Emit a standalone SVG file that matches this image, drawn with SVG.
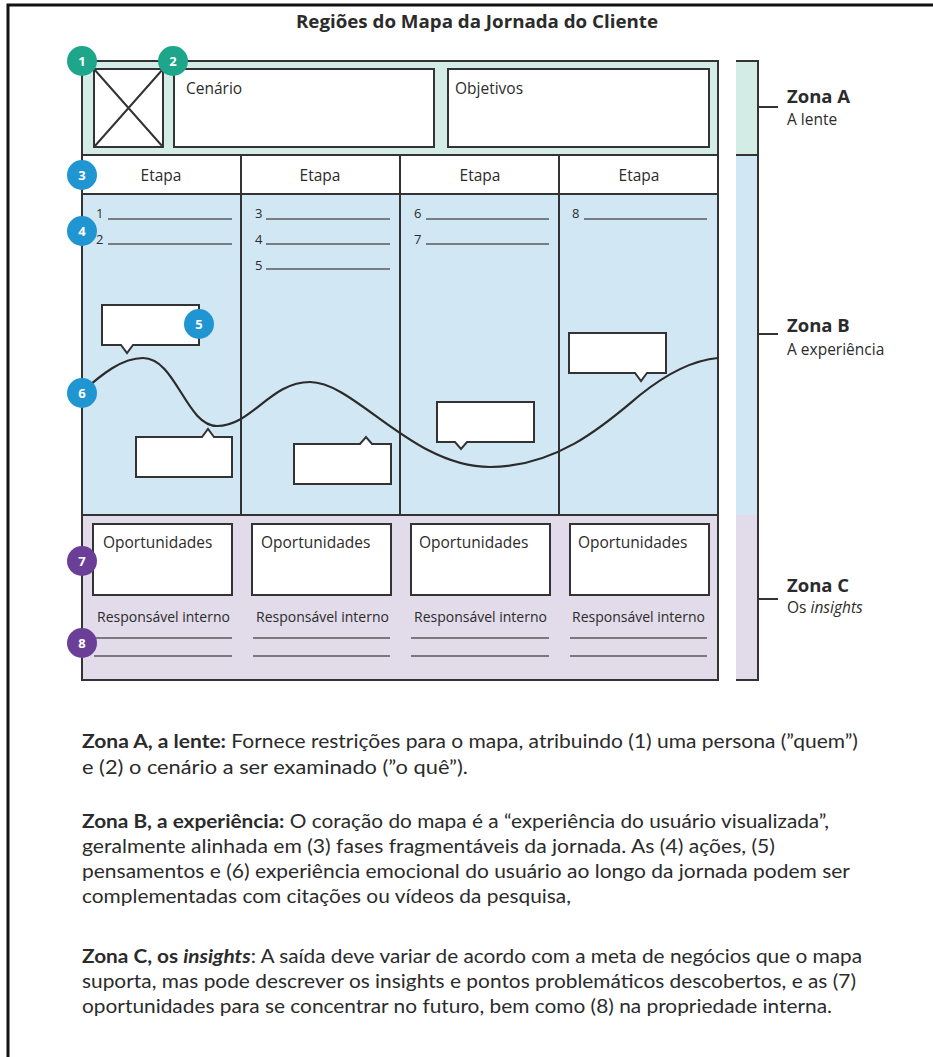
<svg xmlns="http://www.w3.org/2000/svg" width="933" height="1057" viewBox="0 0 933 1057">
<style>
  text { font-family: "Open Sans", "Noto Sans", "Liberation Sans", sans-serif; fill: #2b2b2b; }
  .frame { fill: none; stroke: #111; stroke-width: 3; }
  .box { fill: #fff; stroke: #333; stroke-width: 2; }
  .grid { fill: none; stroke: #333; stroke-width: 2; }
  .uline { stroke: #5a5a5a; stroke-width: 1.3; }
  .lbl { font-size: 15.5px; }
  .etapa { font-size: 15.5px; text-anchor: middle; }
  .num { font-size: 13px; }
  .resp { font-size: 14px; }
  .zt { font-size: 18.5px; font-weight: bold; }
  .zs { font-size: 15.5px; }
  .para { font-family: Lato, "Open Sans", sans-serif; font-size: 18.5px; }
  .badge text { font-size: 13px; font-weight: bold; fill: #fff; text-anchor: middle; }
  .teal { fill: #1da68a; }
  .blue { fill: #1f95d2; }
  .purple { fill: #6b3f97; }
  .bubble { fill: #fff; stroke: #333; stroke-width: 2; stroke-linejoin: miter; }
</style>

<!-- outer frame -->
<path class="frame" d="M933,5 H8 V1057"/>

<!-- title -->
<text x="477" y="28" font-size="18" font-weight="bold" text-anchor="middle" textLength="362" lengthAdjust="spacingAndGlyphs">Regiões do Mapa da Jornada do Cliente</text>

<!-- zone backgrounds -->
<g id="zone-fills">
  <rect x="82" y="61" width="636" height="94" fill="#d3ede6"/>
  <rect x="82" y="155" width="636" height="39" fill="#fff"/>
  <rect x="82" y="194" width="636" height="321" fill="#d2e7f4"/>
  <rect x="82" y="515" width="636" height="165" fill="#e2dbea"/>
</g>

<!-- Zone A -->
<g id="persona">
  <rect class="box" x="94" y="69" width="69" height="78"/>
  <path d="M94,69 L163,147 M163,69 L94,147" stroke="#333" stroke-width="2"/>
</g>
<g id="cenario">
  <rect class="box" x="174" y="69" width="260" height="78"/>
  <text class="lbl" x="186" y="94">Cenário</text>
</g>
<g id="objetivos">
  <rect class="box" x="448" y="69" width="261" height="78"/>
  <text class="lbl" x="455" y="94">Objetivos</text>
</g>

<!-- stage headers -->
<g id="etapas">
  <text class="etapa" x="161" y="181">Etapa</text>
  <text class="etapa" x="320" y="181">Etapa</text>
  <text class="etapa" x="480" y="181">Etapa</text>
  <text class="etapa" x="639" y="181">Etapa</text>
</g>

<!-- grid lines -->
<g id="grid">
  <rect class="grid" x="82" y="61" width="636" height="619"/>
  <path class="grid" d="M82,155 H718 M82,194 H718 M82,515 H718 M241,155 V515 M400,155 V515 M559,155 V515"/>
</g>

<!-- actions -->
<g id="acoes">
  <text class="num" x="96" y="218">1</text><line class="uline" x1="108" y1="219" x2="232" y2="219"/>
  <text class="num" x="96" y="244">2</text><line class="uline" x1="108" y1="244" x2="232" y2="244"/>
  <text class="num" x="255" y="218">3</text><line class="uline" x1="266" y1="219" x2="390" y2="219"/>
  <text class="num" x="255" y="244">4</text><line class="uline" x1="266" y1="244" x2="390" y2="244"/>
  <text class="num" x="255" y="270">5</text><line class="uline" x1="266" y1="269" x2="390" y2="269"/>
  <text class="num" x="414" y="218">6</text><line class="uline" x1="426" y1="219" x2="549" y2="219"/>
  <text class="num" x="414" y="244">7</text><line class="uline" x1="426" y1="244" x2="549" y2="244"/>
  <text class="num" x="572" y="218">8</text><line class="uline" x1="584" y1="219" x2="707" y2="219"/>
</g>

<!-- emotion curve -->
<g id="connectors">
  <path d="M82,392 C102,374 122,358 143,358 C176,358 186,426 217,426 C252,426 270,382 310,382 C355,382 412,467 490,467 C560,467 610,420 640,395 C670,371 695,360 718,358" fill="none" stroke="#2b2b2b" stroke-width="2.2"/>
</g>

<!-- speech bubbles -->
<g id="bubble-1"><path class="bubble" d="M102,305 H199 V345 H133 L127,353 L121,345 H102 Z"/></g>
<g id="bubble-2"><path class="bubble" d="M136,437 H202 L208,429 L214,437 H232 V477 H136 Z"/></g>
<g id="bubble-3"><path class="bubble" d="M294,444 H360 L366,437 L372,444 H391 V484 H294 Z"/></g>
<g id="bubble-4"><path class="bubble" d="M437,402 H534 V442 H467 L461,449 L455,442 H437 Z"/></g>
<g id="bubble-5"><path class="bubble" d="M569,333 H666 V373 H647 L641,381 L635,373 H569 Z"/></g>

<!-- Zone C -->
<g id="oportunidades">
  <rect class="box" x="93" y="524" width="139" height="71"/>
  <text class="lbl" x="103" y="548">Oportunidades</text>
  <rect class="box" x="252" y="524" width="139" height="71"/>
  <text class="lbl" x="261" y="548">Oportunidades</text>
  <rect class="box" x="411" y="524" width="139" height="71"/>
  <text class="lbl" x="419" y="548">Oportunidades</text>
  <rect class="box" x="570" y="524" width="139" height="71"/>
  <text class="lbl" x="578" y="548">Oportunidades</text>
</g>
<g id="responsavel">
  <text class="resp" x="97" y="622">Responsável interno</text>
  <text class="resp" x="256" y="622">Responsável interno</text>
  <text class="resp" x="414" y="622">Responsável interno</text>
  <text class="resp" x="572" y="622">Responsável interno</text>
  <path class="uline" d="M94,638 H232 M94,656 H232 M253,638 H390 M253,656 H390 M411,638 H549 M411,656 H549 M570,638 H707 M570,656 H707"/>
</g>

<!-- side bar -->
<g id="side-bar">
  <rect x="736" y="61" width="22" height="94" fill="#d3ede6"/>
  <rect x="736" y="155" width="22" height="360" fill="#d2e7f4"/>
  <rect x="736" y="515" width="22" height="165" fill="#e2dbea"/>
  <path d="M736,61 H758 V680 H736 M736,155 H758" fill="none" stroke="#333" stroke-width="2"/>
  <path d="M758,107 H778 M758,334 H778 M758,599 H778" stroke="#333" stroke-width="2"/>
</g>
<g id="zona-a">
  <text class="zt" x="787" y="103">Zona A</text>
  <text class="zs" x="787" y="125">A lente</text>
</g>
<g id="zona-b">
  <text class="zt" x="787" y="332">Zona B</text>
  <text class="zs" x="787" y="355">A experiência</text>
</g>
<g id="zona-c">
  <text class="zt" x="787" y="592">Zona C</text>
  <text class="zs" x="787" y="613">Os <tspan font-style="italic">insights</tspan></text>
</g>

<!-- badges -->
<g id="badge-1" class="badge"><circle class="teal" cx="82" cy="61" r="15"/><text x="82" y="66">1</text></g>
<g id="badge-2" class="badge"><circle class="teal" cx="173" cy="61" r="15"/><text x="173" y="66">2</text></g>
<g id="badge-3" class="badge"><circle class="blue" cx="82" cy="175" r="15"/><text x="82" y="180">3</text></g>
<g id="badge-4" class="badge"><circle class="blue" cx="82" cy="231" r="15"/><text x="82" y="236">4</text></g>
<g id="badge-5" class="badge"><circle class="blue" cx="199" cy="324" r="15"/><text x="199" y="329">5</text></g>
<g id="badge-6" class="badge"><circle class="blue" cx="82" cy="393" r="15"/><text x="82" y="398">6</text></g>
<g id="badge-7" class="badge"><circle class="purple" cx="82" cy="561" r="15"/><text x="82" y="566">7</text></g>
<g id="badge-8" class="badge"><circle class="purple" cx="82" cy="643" r="15"/><text x="82" y="648">8</text></g>

<!-- description -->
<g id="descricao">
  <text class="para" x="82" y="748" textLength="776" lengthAdjust="spacingAndGlyphs"><tspan font-weight="bold">Zona A, a lente:</tspan> Fornece restrições para o mapa, atribuindo (1) uma persona (”quem”)</text>
  <text class="para" x="82" y="774" textLength="386" lengthAdjust="spacingAndGlyphs">e (2) o cenário a ser examinado (”o quê”).</text>

  <text class="para" x="82" y="828" textLength="747" lengthAdjust="spacingAndGlyphs"><tspan font-weight="bold">Zona B, a experiência:</tspan> O coração do mapa é a “experiência do usuário visualizada”,</text>
  <text class="para" x="82" y="853" textLength="693" lengthAdjust="spacingAndGlyphs">geralmente alinhada em (3) fases fragmentáveis da jornada. As (4) ações, (5)</text>
  <text class="para" x="82" y="878" textLength="768" lengthAdjust="spacingAndGlyphs">pensamentos e (6) experiência emocional do usuário ao longo da jornada podem ser</text>
  <text class="para" x="82" y="903" textLength="489" lengthAdjust="spacingAndGlyphs">complementadas com citações ou vídeos da pesquisa,</text>

  <text class="para" x="82" y="963" textLength="780" lengthAdjust="spacingAndGlyphs"><tspan font-weight="bold">Zona C, os <tspan font-style="italic">insights</tspan></tspan>: A saída deve variar de acordo com a meta de negócios que o mapa</text>
  <text class="para" x="82" y="988" textLength="774" lengthAdjust="spacingAndGlyphs">suporta, mas pode descrever os insights e pontos problemáticos descobertos, e as (7)</text>
  <text class="para" x="82" y="1013" textLength="750" lengthAdjust="spacingAndGlyphs">oportunidades para se concentrar no futuro, bem como (8) na propriedade interna.</text>
</g>
</svg>
